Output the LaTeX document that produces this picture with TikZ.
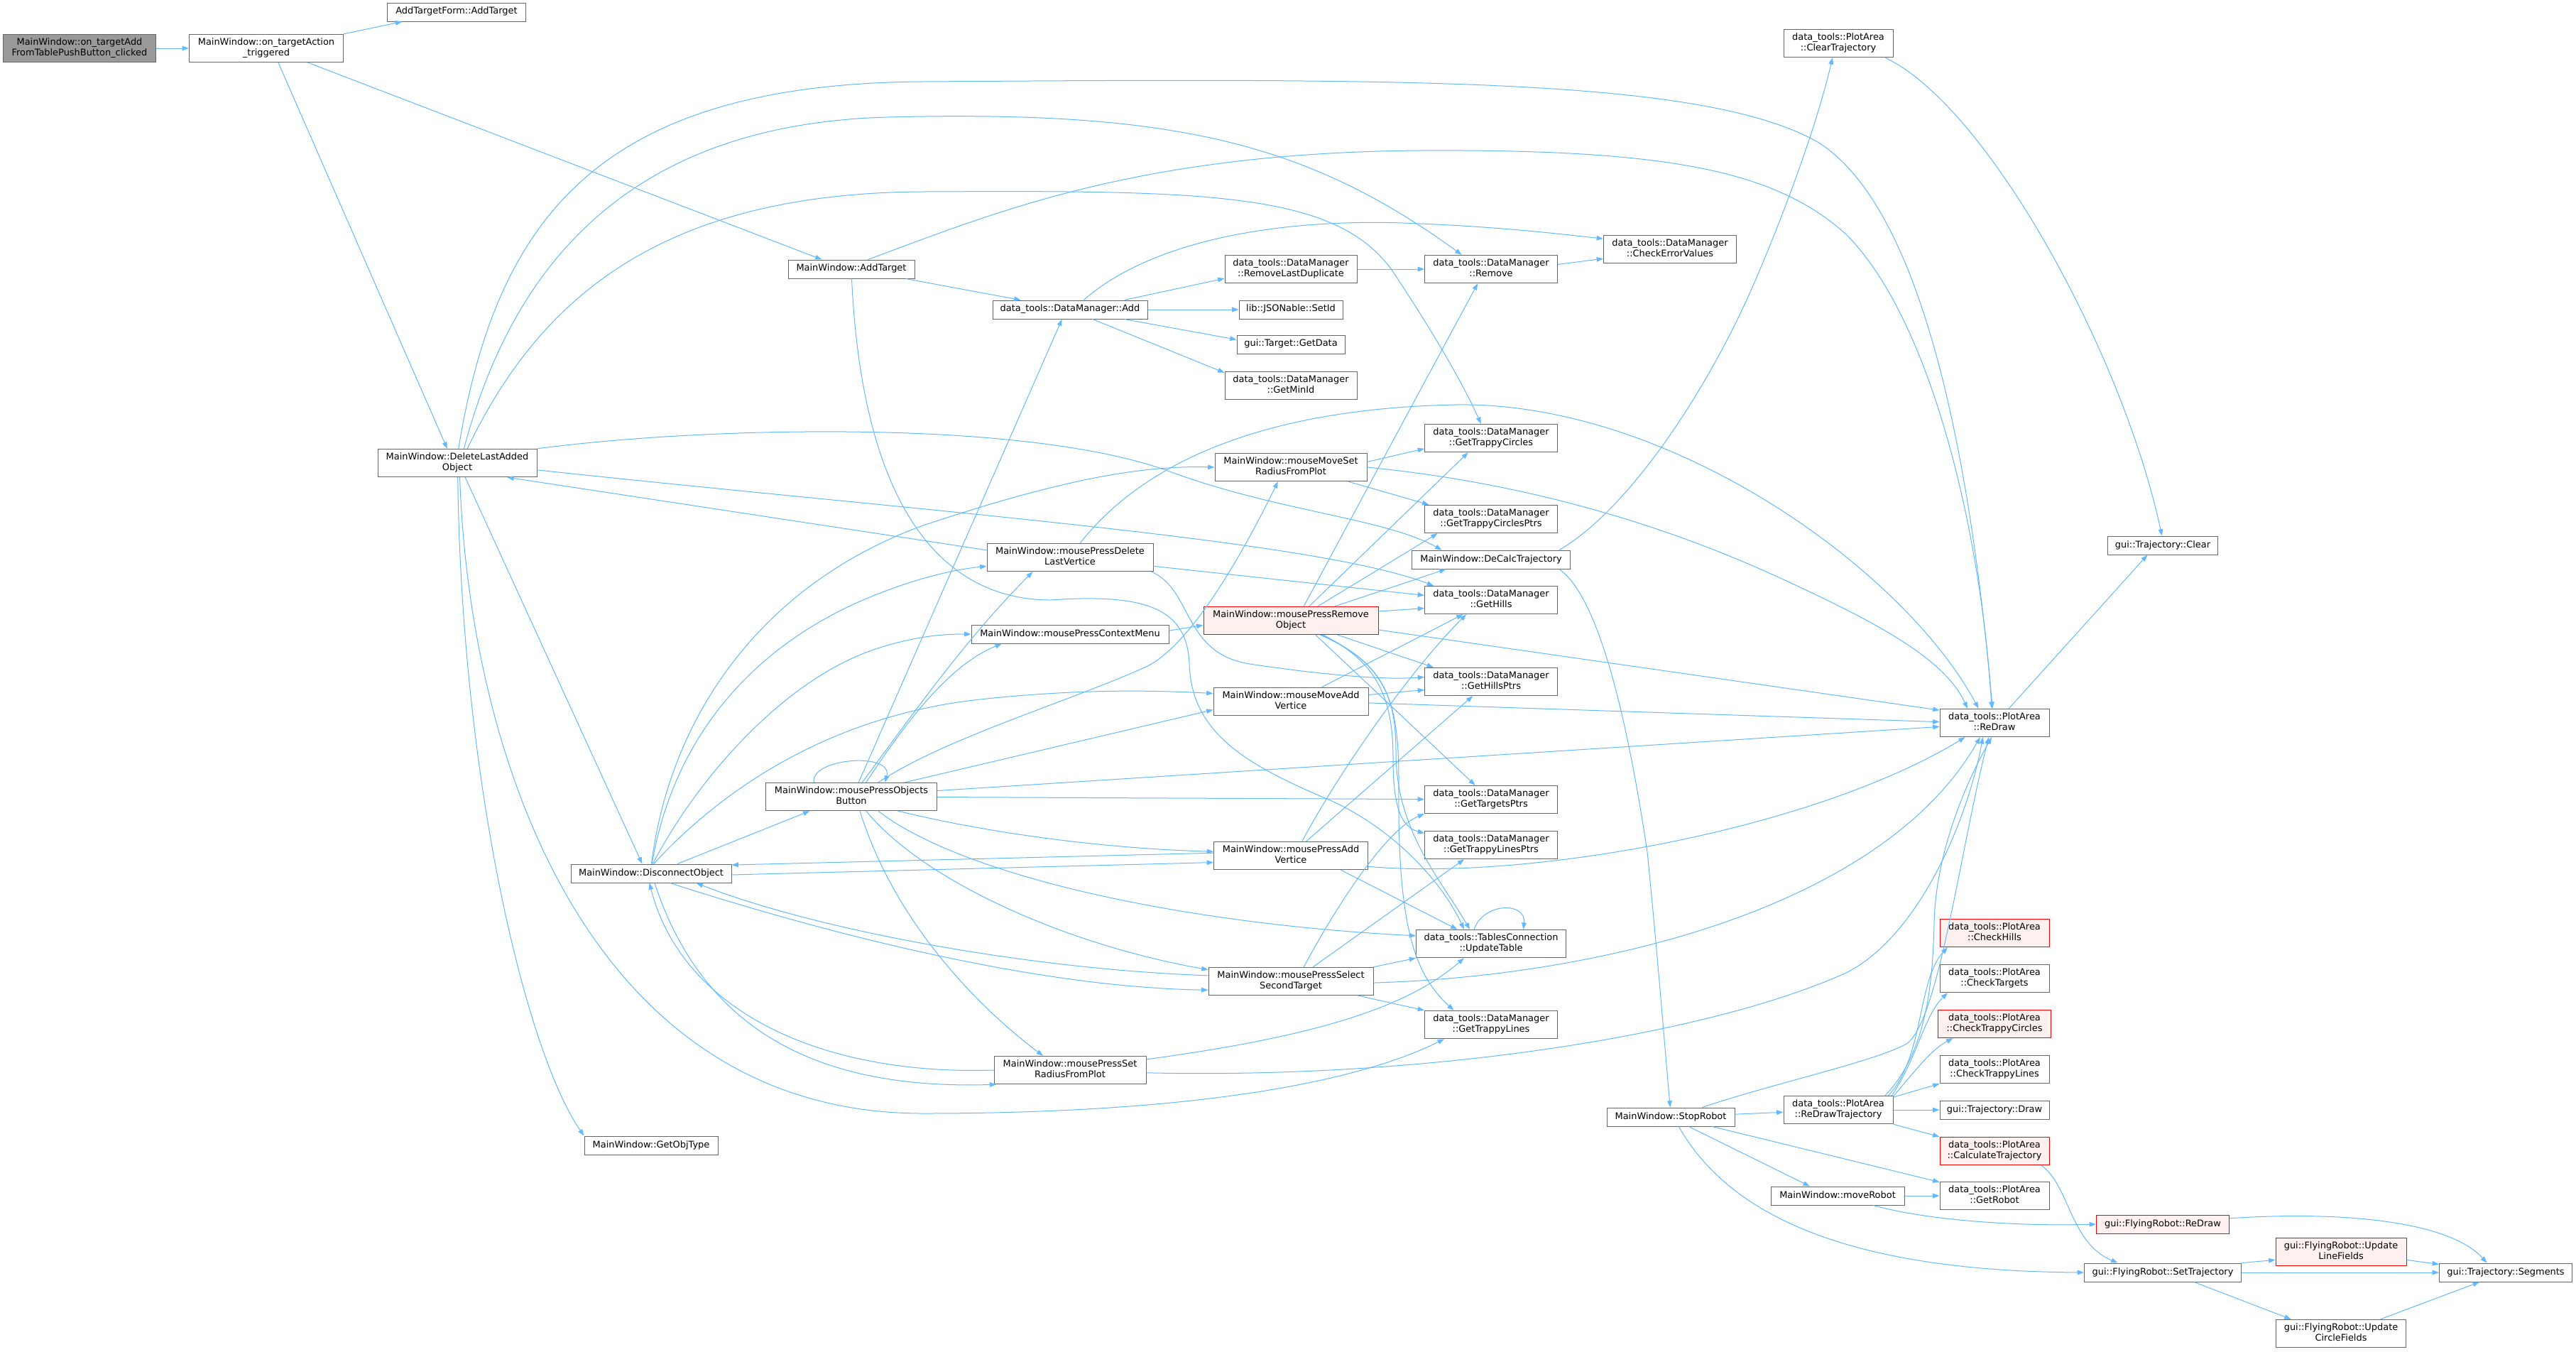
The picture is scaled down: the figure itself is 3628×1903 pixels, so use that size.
\documentclass[tikz,border=0pt]{standalone}
\usepackage{fontspec}
\setmainfont{DejaVu Sans}
\usepackage{xcolor}
\usepackage{tikz}
\usetikzlibrary{arrows.meta}
\definecolor{callblue}{HTML}{63B8FF}
\definecolor{boxline}{HTML}{666666}
\definecolor{rootbg}{HTML}{999999}
\definecolor{redline}{HTML}{FF0000}
\definecolor{redbg}{HTML}{FFF0F0}
\tikzset{
  fn/.style={draw=boxline, fill=white, line width=0.75pt, font=\fontsize{9.7}{11.2}\selectfont, align=center,
    inner xsep=2pt, inner ysep=3.8pt, minimum height=19.5pt,
    execute at begin node=\strut, execute at end node=\strut},
  fnroot/.style={fn, fill=rootbg},
  fnred/.style={fn, draw=redline, fill=redbg},
  wd/.style={minimum width=#1*0.75pt},
  call/.style={draw=callblue, line width=0.75pt, -{Triangle[length=7pt,width=5pt]}},
}
\begin{document}
\begin{tikzpicture}[x=0.75pt,y=-0.75pt]
  \useasboundingbox (0,0) rectangle (3628,1903);
  \node[fnroot, wd=215] (root) at (112,68) {MainWindow::on\_targetAdd\\FromTablePushButton\_clicked};
  \node[fn, wd=217] (onAction) at (375,68) {MainWindow::on\_targetAction\\\_triggered};
  \node[fn, wd=195] (addForm) at (643,17) {AddTargetForm::AddTarget};
  \node[fn, wd=224] (delLast) at (644,652) {MainWindow::DeleteLastAdded\\Object};
  \node[fn, wd=178] (addTgt) at (1199,379) {MainWindow::AddTarget};
  \node[fn, wd=218] (dmAdd) at (1507,436) {data\_tools::DataManager::Add};
  \node[fn, wd=186] (rmDup) at (1818,379) {data\_tools::DataManager\\::RemoveLastDuplicate};
  \node[fn, wd=146] (setId) at (1818,436) {lib::JSONable::SetId};
  \node[fn, wd=152] (getData) at (1818,485) {gui::Target::GetData};
  \node[fn, wd=186] (getMinId) at (1818,543) {data\_tools::DataManager\\::GetMinId};
  \node[fn, wd=187] (dmRemove) at (2100,379) {data\_tools::DataManager\\::Remove};
  \node[fn, wd=187] (checkErr) at (2352,351) {data\_tools::DataManager\\::CheckErrorValues};
  \node[fn, wd=187] (getTrC) at (2100,617) {data\_tools::DataManager\\::GetTrappyCircles};
  \node[fn, wd=214] (moveSetRad) at (1818,658) {MainWindow::mouseMoveSet\\RadiusFromPlot};
  \node[fn, wd=187] (getTrCP) at (2100,731) {data\_tools::DataManager\\::GetTrappyCirclesPtrs};
  \node[fn, wd=223] (deCalc) at (2100,788) {MainWindow::DeCalcTrajectory};
  \node[fn, wd=234] (pressDelV) at (1507,785) {MainWindow::mousePressDelete\\LastVertice};
  \node[fn, wd=187] (getHills) at (2100,845) {data\_tools::DataManager\\::GetHills};
  \node[fnred, wd=246] (pressRemove) at (1818,874) {MainWindow::mousePressRemove\\Object};
  \node[fn, wd=278] (ctxMenu) at (1507,893) {MainWindow::mousePressContextMenu};
  \node[fn, wd=187] (getHillsP) at (2100,960) {data\_tools::DataManager\\::GetHillsPtrs};
  \node[fn, wd=218] (moveAddV) at (1818,988) {MainWindow::mouseMoveAdd\\Vertice};
  \node[fn, wd=226] (disconnect) at (917,1230) {MainWindow::DisconnectObject};
  \node[fn, wd=241] (objBtn) at (1199,1122) {MainWindow::mousePressObjects\\Button};
  \node[fn, wd=187] (getTgtP) at (2100,1126) {data\_tools::DataManager\\::GetTargetsPtrs};
  \node[fn, wd=217] (pressAddV) at (1818,1205) {MainWindow::mousePressAdd\\Vertice};
  \node[fn, wd=187] (getTrLP) at (2100,1190) {data\_tools::DataManager\\::GetTrappyLinesPtrs};
  \node[fn, wd=211] (updTable) at (2100,1329) {data\_tools::TablesConnection\\::UpdateTable};
  \node[fn, wd=232] (selSecond) at (1818,1382) {MainWindow::mousePressSelect\\SecondTarget};
  \node[fn, wd=187] (getTrL) at (2100,1443) {data\_tools::DataManager\\::GetTrappyLines};
  \node[fn, wd=214] (setRadPlot) at (1507,1507) {MainWindow::mousePressSet\\RadiusFromPlot};
  \node[fn, wd=188] (getObjType) at (917,1613) {MainWindow::GetObjType};
  \node[fn, wd=154] (clearTraj) at (2589,61) {data\_tools::PlotArea\\::ClearTrajectory};
  \node[fn, wd=155] (trajClear) at (3046,768) {gui::Trajectory::Clear};
  \node[fn, wd=154] (reDraw) at (2809,1018) {data\_tools::PlotArea\\::ReDraw};
  \node[fn, wd=180] (stopRobot) at (2353,1573) {MainWindow::StopRobot};
  \node[fn, wd=154] (reDrawTraj) at (2589,1563) {data\_tools::PlotArea\\::ReDrawTrajectory};
  \node[fnred, wd=154] (checkHills) at (2809,1314) {data\_tools::PlotArea\\::CheckHills};
  \node[fn, wd=154] (checkTgts) at (2809,1378) {data\_tools::PlotArea\\::CheckTargets};
  \node[fnred, wd=159] (checkTrC) at (2809,1442) {data\_tools::PlotArea\\::CheckTrappyCircles};
  \node[fn, wd=154] (checkTrL) at (2809,1506) {data\_tools::PlotArea\\::CheckTrappyLines};
  \node[fn, wd=154] (trajDraw) at (2809,1563) {gui::Trajectory::Draw};
  \node[fnred, wd=154] (calcTraj) at (2809,1621) {data\_tools::PlotArea\\::CalculateTrajectory};
  \node[fn, wd=154] (getRobot) at (2809,1684) {data\_tools::PlotArea\\::GetRobot};
  \node[fn, wd=188] (moveRobot) at (2588,1684) {MainWindow::moveRobot};
  \node[fnred, wd=187] (robReDraw) at (3046,1724) {gui::FlyingRobot::ReDraw};
  \node[fn, wd=221] (setTraj) at (3046,1792) {gui::FlyingRobot::SetTrajectory};
  \node[fnred, wd=184] (updLine) at (3297,1763) {gui::FlyingRobot::Update\\LineFields};
  \node[fn, wd=187] (segments) at (3529,1792) {gui::Trajectory::Segments};
  \node[fn, wd=183] (updCircle) at (3297,1878) {gui::FlyingRobot::Update\\CircleFields};

  \draw[call] (root) -- (onAction);
  \draw[call] (onAction.north east) -- (addForm.190);
  \draw[call] (onAction.-19) -- (addTgt.162);
  \draw[call] (onAction.-50) -- (delLast.125);

  \draw[call] (delLast.85) .. controls (700,300) and (850,118) .. (1300,115) .. controls (2000,110) and (2400,110) .. (2560,200) .. controls (2720,300) and (2780,700) .. (reDraw.98);
  \draw[call] (delLast.65) .. controls (720,380) and (880,175) .. (1250,165) .. controls (1650,155) and (1840,200) .. (dmRemove.154);
  \draw[call] (delLast.55) .. controls (760,420) and (930,272) .. (1300,270) .. controls (1700,268) and (1880,270) .. (1960,380) .. controls (2020,470) and (2060,540) .. (getTrC.125);
  \draw[call] (delLast.north east) .. controls (1000,600) and (1450,590) .. (1650,665) .. controls (1800,720) and (1950,730) .. (deCalc.169);
  \draw[call] (delLast.-5) .. controls (1300,720) and (1850,760) .. (getHills.166);
  \draw[call] (delLast.-61) -- (disconnect.133);
  \draw[call] (delLast.-88) .. controls (650,1100) and (740,1480) .. (getObjType.north west);
  \draw[call] (delLast.-80) .. controls (660,1050) and (820,1568) .. (1300,1568) .. controls (1700,1568) and (1920,1520) .. (getTrL.-163);

  \draw[call] (addTgt.30) .. controls (1400,300) and (1600,215) .. (2000,212) .. controls (2350,210) and (2500,240) .. (2600,330) .. controls (2720,450) and (2790,750) .. (reDraw.101);
  \draw[call] (addTgt.-10) -- (dmAdd.169);
  \draw[call] (addTgt.-88) .. controls (1215,720) and (1330,845) .. (1480,845) .. controls (1620,835) and (1672,860) .. (1675,935) .. controls (1678,1030) and (1750,1075) .. (1871,1126) .. controls (1960,1165) and (2030,1240) .. (updTable.152);

  \draw[call] (dmAdd.10) -- (rmDup.188);
  \draw[call] (dmAdd) -- (setId);
  \draw[call] (dmAdd.-10) -- (getData.175);
  \draw[call] (dmAdd.-23) -- (getMinId.169);
  \draw[call] (dmAdd.35) .. controls (1620,340) and (1800,305) .. (2000,315) .. controls (2120,320) and (2200,330) .. (checkErr.171);
  \draw[call] (rmDup) -- (dmRemove);
  \draw[call] (dmRemove.4) -- (checkErr.188);

  \draw[call] (moveSetRad.4) -- (getTrC.189);
  \draw[call] (moveSetRad.-14) -- (getTrCP.167);
  \draw[call] (moveSetRad.east) .. controls (2150,680) and (2350,740) .. (2520,820) .. controls (2650,880) and (2740,930) .. (reDraw.152);

  \draw[call] (pressDelV.175) -- (delLast.-16);
  \draw[call] (pressDelV.55) .. controls (1620,640) and (1800,575) .. (2050,570) .. controls (2350,565) and (2680,800) .. (reDraw.138);
  \draw[call] (pressDelV.-6) -- (getHills.176);
  \draw[call] (pressDelV.-10) .. controls (1680,830) and (1665,920) .. (1760,935) .. controls (1860,950) and (1950,958) .. (getHillsP.176);

  \draw[call] (ctxMenu.2) -- (pressRemove.183);

  \draw[call] (pressRemove.48) -- (dmRemove.-133);
  \draw[call] (pressRemove.38) -- (getTrC.-148);
  \draw[call] (pressRemove.28) -- (getTrCP.-165);
  \draw[call] (pressRemove.18) -- (deCalc.-168);
  \draw[call] (pressRemove.6) -- (getHills.187);
  \draw[call] (pressRemove.-6) -- (reDraw.167);
  \draw[call] (pressRemove.-17) -- (getHillsP.166);
  \draw[call] (pressRemove.-30) -- (getTgtP.138);
  \draw[call] (pressRemove.-24) .. controls (1945,935) and (1962,990) .. (1962,1070) .. controls (1962,1140) and (1975,1165) .. (getTrLP.170);
  \draw[call] (pressRemove.-25) .. controls (1950,935) and (1966,985) .. (1966,1060) .. controls (1966,1170) and (2030,1240) .. (updTable.146);
  \draw[call] (pressRemove.-26) .. controls (1955,935) and (1970,990) .. (1970,1100) .. controls (1968,1300) and (1990,1370) .. (getTrL.159);

  \draw[call] (moveAddV.25) -- (getHills.-153);
  \draw[call] (moveAddV.5) -- (getHillsP.187);
  \draw[call] (moveAddV.-1) -- (reDraw.179);

  \draw[call] (objBtn.63) -- (dmAdd.-130);
  \draw[call] (objBtn.53) .. controls (1290,1000) and (1360,900) .. (pressDelV.-159);
  \draw[call] (objBtn.44) .. controls (1280,1010) and (1340,935) .. (ctxMenu.-172);
  \draw[call] (objBtn.28) .. controls (1330,1040) and (1500,990) .. (1612,940) .. controls (1680,910) and (1760,760) .. (moveSetRad.-132);
  \draw[call] (objBtn.15) -- (moveAddV.186);
  \draw[call] (objBtn.4) -- (reDraw.184);
  \draw[call] (objBtn) -- (getTgtP);
  \draw[call] (objBtn.-17) .. controls (1400,1175) and (1560,1195) .. (pressAddV.177);
  \draw[call] (objBtn.-28) .. controls (1350,1230) and (1650,1300) .. (updTable.174);
  \draw[call] (objBtn.-44) .. controls (1300,1240) and (1500,1330) .. (selSecond.172);
  \draw[call] (objBtn.-59) .. controls (1260,1300) and (1380,1420) .. (setRadPlot.152);
  \draw[call] (objBtn.159) .. controls (1140,1068) and (1258,1058) .. (objBtn.23);

  \draw[call] (disconnect.20) -- (objBtn.-161);
  \draw[call] (disconnect.88) .. controls (945,1000) and (1080,820) .. (1300,740) .. controls (1480,680) and (1600,655) .. (moveSetRad.west);
  \draw[call] (disconnect.85) .. controls (950,1030) and (1070,900) .. (1240,835) .. controls (1300,812) and (1345,802) .. (pressDelV.186);
  \draw[call] (disconnect.80) .. controls (980,1100) and (1100,960) .. (1230,915) .. controls (1290,895) and (1330,893) .. (ctxMenu.west);
  \draw[call] (disconnect.75) .. controls (1000,1130) and (1150,1010) .. (1380,985) .. controls (1520,970) and (1620,972) .. (moveAddV.174);
  \draw[call] (disconnect.-1) -- (pressAddV.185);
  \draw[call] (disconnect.-27) .. controls (1150,1310) and (1450,1390) .. (selSecond.186);
  \draw[call] (disconnect.-70) .. controls (990,1450) and (1150,1535) .. (setRadPlot.-169);

  \draw[call] (pressAddV.178) -- (disconnect.6);
  \draw[call] (pressAddV.52) .. controls (1890,1080) and (1990,940) .. (getHills.-150);
  \draw[call] (pressAddV.43) -- (getHillsP.-142);
  \draw[call] (pressAddV.-8) .. controls (2150,1240) and (2550,1170) .. (reDraw.-154);
  \draw[call] (pressAddV.-16) -- (updTable.157);

  \draw[call] (selSecond.176) .. controls (1450,1365) and (1150,1310) .. (disconnect.-12);
  \draw[call] (selSecond.48) .. controls (1880,1280) and (1950,1170) .. (getTgtP.-168);
  \draw[call] (selSecond.33) -- (getTrLP.-152);
  \draw[call] (selSecond.north east) -- (updTable.south west);
  \draw[call] (selSecond.-12) -- (getTrL.north west);
  \draw[call] (selSecond.-1) .. controls (2250,1375) and (2650,1280) .. (reDraw.-135);

  \draw[call] (setRadPlot.west) .. controls (1150,1515) and (960,1420) .. (disconnect.-100);
  \draw[call] (setRadPlot.8) .. controls (1850,1460) and (1980,1420) .. (updTable.-152);
  \draw[call] (setRadPlot.-2) .. controls (2000,1520) and (2400,1460) .. (2600,1370) .. controls (2700,1320) and (2770,1160) .. (reDraw.-129);
  \draw[call] (updTable.140) .. controls (2090,1270) and (2150,1270) .. (updTable.24);

  \draw[call] (deCalc.8) .. controls (2290,720) and (2400,560) .. (2470,400) .. controls (2530,260) and (2565,150) .. (clearTraj.-112);
  \draw[call] (deCalc.-8) .. controls (2250,840) and (2290,1000) .. (2320,1200) .. controls (2335,1350) and (2345,1480) .. (stopRobot.93);
  \draw[call] (clearTraj.-17) .. controls (2800,150) and (2990,500) .. (trajClear.95);
  \draw[call] (reDraw.45) -- (trajClear.-148);

  \draw[call] (stopRobot.17) .. controls (2500,1525) and (2640,1495) .. (2685,1470) .. controls (2730,1440) and (2760,1200) .. (reDraw.-112);
  \draw[call] (stopRobot) -- (reDrawTraj);
  \draw[call] (stopRobot.-28) -- (moveRobot.161);
  \draw[call] (stopRobot.-13) -- (getRobot.166);
  \draw[call] (stopRobot.-50) .. controls (2440,1720) and (2620,1790) .. (setTraj.west);

  \draw[call] (reDrawTraj.16) .. controls (2710,1490) and (2700,1380) .. (checkHills.-163);
  \draw[call] (reDrawTraj.15) .. controls (2700,1490) and (2710,1430) .. (checkTgts.-163);
  \draw[call] (reDrawTraj.14) .. controls (2700,1505) and (2720,1478) .. (checkTrC.-161);
  \draw[call] (reDrawTraj.13) -- (checkTrL.south west);
  \draw[call] (reDrawTraj) -- (trajDraw);
  \draw[call] (reDrawTraj.south east) -- (calcTraj.north west);
  \draw[call] (reDrawTraj.17) .. controls (2715,1480) and (2722,1380) .. (2724,1300) .. controls (2726,1200) and (2770,1100) .. (reDraw.-101);

  \draw[call] (calcTraj.-17) .. controls (2915,1670) and (2915,1750) .. (setTraj.168);
  \draw[call] (moveRobot) -- (getRobot);
  \draw[call] (moveRobot.-15) .. controls (2720,1720) and (2850,1727) .. (robReDraw.west);
  \draw[call] (robReDraw.5) .. controls (3300,1705) and (3450,1720) .. (segments.153);
  \draw[call] (setTraj.north east) -- (updLine.187);
  \draw[call] (setTraj) -- (segments);
  \draw[call] (setTraj.-17) -- (updCircle.164);
  \draw[call] (updLine.-7) -- (segments.173);
  \draw[call] (updCircle.20) -- (segments.-160);
\end{tikzpicture}
\end{document}
